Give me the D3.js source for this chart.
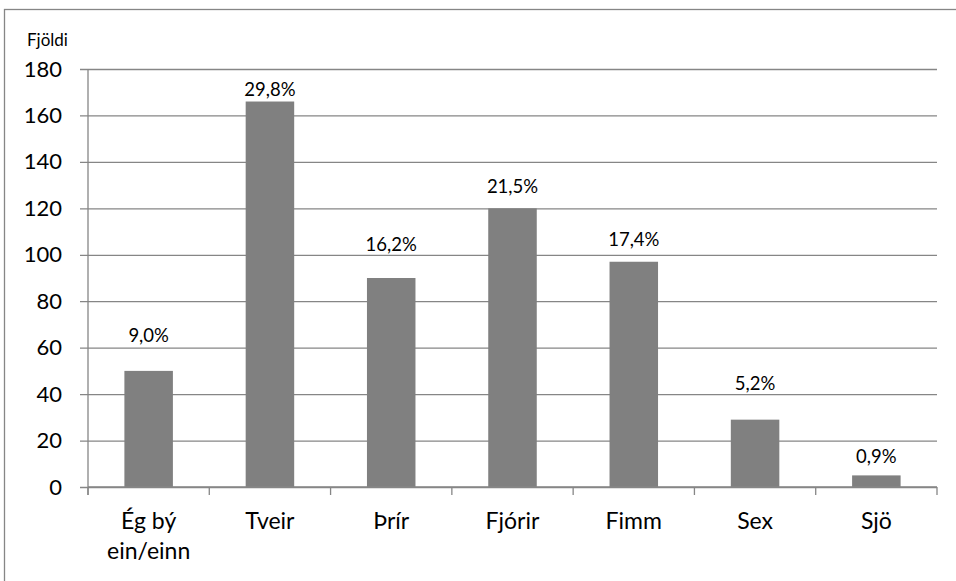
<!DOCTYPE html>
<html>
<head>
<meta charset="utf-8">
<script src="https://cdn.jsdelivr.net/npm/d3@7"></script>
<style>
  html, body { margin: 0; padding: 0; background: #fff; }
  svg { display: block; }
  text { font-family: Lato, "Noto Sans", sans-serif; fill: #000; }
</style>
</head>
<body>
<svg id="chart" width="956" height="581"></svg>
<script>
// ---- data ----
const categories = [["Ég bý", "ein/einn"], ["Tveir"], ["Þrír"], ["Fjórir"], ["Fimm"], ["Sex"], ["Sjö"]];
const counts = [50, 166, 90, 120, 97, 29, 5];
const percentLabels = ["9,0%", "29,8%", "16,2%", "21,5%", "17,4%", "5,2%", "0,9%"];
const yTicks = [0, 20, 40, 60, 80, 100, 120, 140, 160, 180];
const yTitle = "Fjöldi";

// ---- layout / style ----
const svg = d3.select("#chart");
const plotLeft = 88, plotRight = 937, plotTop = 69, plotBottom = 487;
const gridColor = "#868686";
const labelGap = [29, 6, 27, 15, 16, 30, 12]; // manual label placement above bars (px)

const keys = categories.map(c => c.join(" "));
const x = d3.scaleBand().domain(keys).range([plotLeft, plotRight]).paddingInner(0.6).paddingOuter(0.3);
const y = d3.scaleLinear().domain([0, 180]).range([plotBottom, plotTop]);

// outer chart border
svg.append("rect").attr("x", 4.5).attr("y", 9.5).attr("width", 1000).attr("height", 1000)
  .attr("fill", "none").attr("stroke", gridColor).attr("stroke-width", 1.3);

// gridlines + y axis ticks
const yAxis = d3.axisLeft(y).tickValues(yTicks).tickSize(8).tickPadding(18).tickFormat(d3.format("d"));
const gy = svg.append("g").attr("transform", `translate(${plotLeft},0)`).call(yAxis);
gy.select(".domain").remove();
gy.selectAll(".tick line").attr("stroke", gridColor).attr("stroke-width", 1.3)
  .attr("x1", -8).attr("x2", plotRight - plotLeft);
gy.selectAll(".tick text").attr("font-size", 22).attr("font-family", "Lato").attr("fill", "#000");
// y axis line
svg.append("line").attr("x1", plotLeft).attr("x2", plotLeft).attr("y1", plotTop).attr("y2", plotBottom + 8)
  .attr("stroke", gridColor).attr("stroke-width", 1.3);

// bars
svg.append("g").selectAll("rect").data(counts).join("rect")
  .attr("x", (d, i) => x(keys[i]))
  .attr("y", d => y(d))
  .attr("width", x.bandwidth())
  .attr("height", d => y(0) - y(d))
  .attr("fill", "#808080");

// x axis line and ticks at category boundaries
svg.append("line").attr("x1", plotLeft).attr("x2", plotRight).attr("y1", plotBottom).attr("y2", plotBottom)
  .attr("stroke", gridColor).attr("stroke-width", 1.3);
const step = x.step();
const boundaries = d3.range(keys.length + 1).map(i => x(keys[0]) - x.paddingOuter() * step + i * step);
svg.append("g").selectAll("line").data(boundaries).join("line")
  .attr("x1", d => d).attr("x2", d => d).attr("y1", plotBottom).attr("y2", plotBottom + 8)
  .attr("stroke", gridColor).attr("stroke-width", 1.3);

// category labels
const cat = svg.append("g").selectAll("text").data(categories).join("text")
  .attr("text-anchor", "middle").attr("font-size", 23)
  .attr("x", (d, i) => x(keys[i]) + x.bandwidth() / 2)
  .attr("y", plotBottom + 42);
cat.selectAll("tspan").data(d => d).join("tspan")
  .attr("x", function() { return d3.select(this.parentNode).attr("x"); })
  .attr("dy", (d, j) => j === 0 ? 0 : 30)
  .text(d => d);

// data labels
svg.append("g").selectAll("text").data(counts).join("text")
  .attr("text-anchor", "middle").attr("font-size", 18.5)
  .attr("x", (d, i) => x(keys[i]) + x.bandwidth() / 2)
  .attr("y", (d, i) => y(d) - labelGap[i])
  .text((d, i) => percentLabels[i]);

// y title
svg.append("text").attr("x", 27).attr("y", 46).attr("font-size", 17).text(yTitle);
</script>
</body>
</html>
